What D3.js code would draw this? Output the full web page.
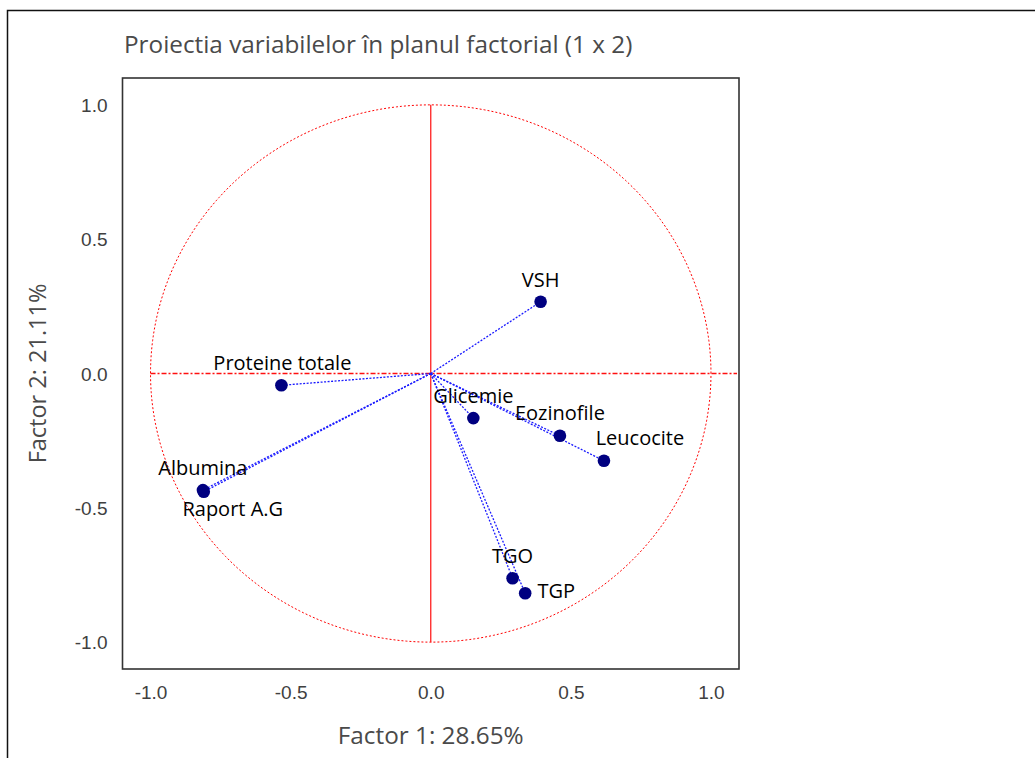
<!DOCTYPE html>
<html>
<head>
<meta charset="utf-8">
<script src="https://cdn.jsdelivr.net/npm/d3@7"></script>
<style>
  html, body { margin: 0; padding: 0; background: #fff; }
  svg { display: block; }
</style>
</head>
<body>
<svg id="chart" width="1035" height="758"></svg>
<script>
// Variable loadings on the first two factors
const variables = ["Proteine totale", "Albumina", "Raport A.G", "VSH", "Glicemie", "Eozinofile", "Leucocite", "TGO", "TGP"];
const factor1 = [-0.533, -0.813, -0.810, 0.392, 0.152, 0.461, 0.618, 0.292, 0.337];
const factor2 = [-0.044, -0.434, -0.440, 0.267, -0.166, -0.232, -0.325, -0.762, -0.818];
const tickValues = [-1.0, -0.5, 0.0, 0.5, 1.0];
const titleText = "Proiectia variabilelor în planul factorial (1 x 2)";
const xTitle = "Factor 1: 28.65%";
const yTitle = "Factor 2: 21.11%";

// Label offsets (pixels) relative to each point
const labelOffsets = [[1, -15], [0, -15], [29, 24], [0, -15], [0, -15], [0, -16], [36, -16], [0, -15], [31, 5]];

const svg = d3.select("#chart");
const box = { left: 122.5, right: 739, top: 78, bottom: 669 };

const x = d3.scaleLinear().domain([-1.1, 1.1]).range([box.left, box.right]);
const y = d3.scaleLinear().domain([-1.1, 1.1]).range([box.bottom, box.top]);

const uiFont = "'Open Sans', sans-serif";

// outer frame
svg.append("rect")
  .attr("x", 7.5).attr("y", 10.5)
  .attr("width", 1100).attr("height", 800)
  .attr("fill", "none").attr("stroke", "#111").attr("stroke-width", 1.5);

// title
svg.append("text")
  .attr("x", 124).attr("y", 53)
  .attr("font-family", uiFont)
  .attr("font-size", 24.3)
  .attr("fill", "#4a4a4a")
  .text(titleText);

// plot box
svg.append("rect")
  .attr("x", box.left).attr("y", box.top)
  .attr("width", box.right - box.left).attr("height", box.bottom - box.top)
  .attr("fill", "none").attr("stroke", "#333").attr("stroke-width", 1.6);

// axes (labels only)
const fmt = d => d.toFixed(1);
const xAxis = d3.axisBottom(x).tickValues(tickValues).tickSize(0).tickPadding(17).tickFormat(fmt);
const yAxis = d3.axisLeft(y).tickValues(tickValues).tickSize(0).tickPadding(15).tickFormat(fmt);

const gx = svg.append("g").attr("transform", `translate(0,${box.bottom})`).call(xAxis);
const gy = svg.append("g").attr("transform", `translate(${box.left},0)`).call(yAxis);
[gx, gy].forEach(g => {
  g.select(".domain").remove();
  g.selectAll("text")
    .attr("font-family", "'Liberation Sans', Arial, sans-serif")
    .attr("font-size", 19)
    .attr("fill", "#404040");
});
gy.selectAll("text").attr("dy", "0.35em");

// axis titles
svg.append("text")
  .attr("x", (x(-1.1) + x(1.1)) / 2).attr("y", 744)
  .attr("text-anchor", "middle")
  .attr("font-family", uiFont)
  .attr("font-size", 24.3)
  .attr("fill", "#4a4a4a")
  .text(xTitle);

svg.append("text")
  .attr("transform", `translate(46,${y(0)}) rotate(-90)`)
  .attr("text-anchor", "middle")
  .attr("font-family", uiFont)
  .attr("font-size", 23.5)
  .attr("fill", "#4a4a4a")
  .text(yTitle);

// unit circle and reference lines
const ellipse = d3.line().x(d => x(Math.cos(d))).y(d => y(Math.sin(d)));
svg.append("path")
  .datum(d3.range(0, 2 * Math.PI + 0.001, Math.PI / 180))
  .attr("d", ellipse)
  .attr("fill", "none")
  .attr("stroke", "#ff0000")
  .attr("stroke-width", 1)
  .attr("stroke-dasharray", "2,2");

svg.append("line")
  .attr("x1", x(0)).attr("x2", x(0))
  .attr("y1", y(1)).attr("y2", y(-1))
  .attr("stroke", "#ff2020").attr("stroke-width", 1.3);

svg.append("line")
  .attr("x1", x(-1)).attr("x2", x(1.1) - 2)
  .attr("y1", y(0)).attr("y2", y(0))
  .attr("stroke", "#ff1010").attr("stroke-width", 1.3)
  .attr("stroke-dasharray", "5,2,2,2");

const data = variables.map((name, i) => ({ name, f1: factor1[i], f2: factor2[i], off: labelOffsets[i] }));

// vectors from origin
svg.append("g").selectAll("line")
  .data(data).join("line")
  .attr("x1", x(0)).attr("y1", y(0))
  .attr("x2", d => x(d.f1)).attr("y2", d => y(d.f2))
  .attr("stroke", "#1a1aff").attr("stroke-width", 1.3)
  .attr("stroke-dasharray", "2,1.5");

// points
svg.append("g").selectAll("circle")
  .data(data).join("circle")
  .attr("cx", d => x(d.f1)).attr("cy", d => y(d.f2))
  .attr("r", 6.3)
  .attr("fill", "#000080");

// labels
svg.append("g").selectAll("text")
  .data(data).join("text")
  .attr("x", d => x(d.f1) + d.off[0])
  .attr("y", d => y(d.f2) + d.off[1])
  .attr("text-anchor", "middle")
  .attr("font-family", uiFont)
  .attr("font-size", 20)
  .attr("fill", "#000")
  .text(d => d.name);
</script>
</body>
</html>
